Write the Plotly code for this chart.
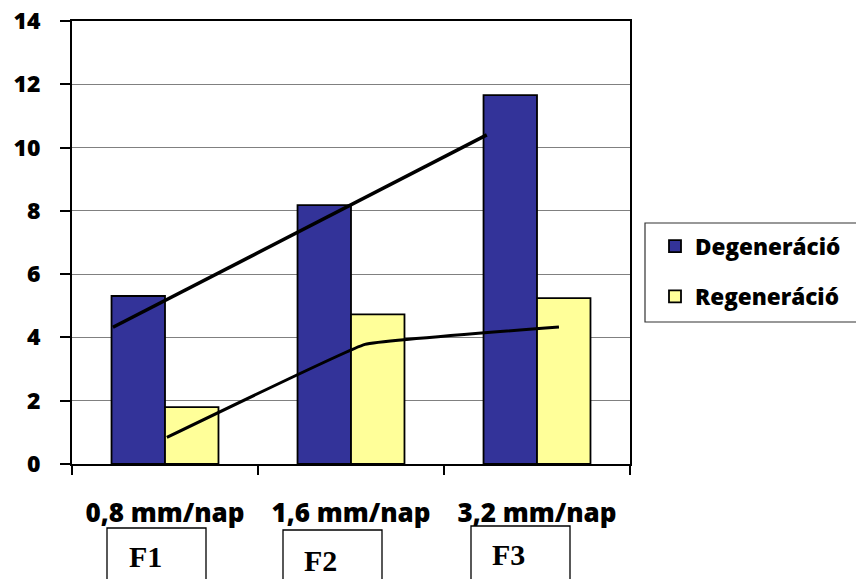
import plotly.graph_objects as go

# ---- data ----
categories = ["0,8 mm/nap", "1,6 mm/nap", "3,2 mm/nap"]
degeneracio = [5.31, 8.18, 11.66]
regeneracio = [1.80, 4.73, 5.24]

# hand-drawn trend lines (x in category-index units, y in axis units)
deg_line_x = [-0.28, 1.73]
deg_line_y = [4.32, 10.40]
reg_line_x = [0.01, 1.075, 2.118]
reg_line_y = [0.84, 3.78, 4.33]

y_ticks = [0, 2, 4, 6, 8, 10, 12, 14]
box_labels = ["F1", "F2", "F3"]

FONT = "Open Sans"

fig = go.Figure()
fig.add_trace(go.Bar(
    x=categories, y=degeneracio, name="Degeneráció",
    marker=dict(color="#333399", line=dict(color="black", width=1.8)),
    legendgroup="a",
))
fig.add_trace(go.Bar(
    x=categories, y=regeneracio, name="Regeneráció",
    marker=dict(color="#FFFF99", line=dict(color="black", width=1.8)),
    legendgroup="b",
))
fig.add_trace(go.Scatter(
    x=deg_line_x, y=deg_line_y, mode="lines", xaxis="x2",
    line=dict(color="black", width=3.5), showlegend=False, hoverinfo="skip",
))
fig.add_trace(go.Scatter(
    x=reg_line_x, y=reg_line_y, mode="lines", xaxis="x2",
    line=dict(color="black", width=3, shape="spline", smoothing=0.2),
    showlegend=False, hoverinfo="skip",
))

# reference-pixel geometry of plot area
L, R, T, B = 72, 630, 21, 464
W, H = 856, 579

def px(xp):
    return (xp - L) / (R - L)

def py(yp):
    return (B - yp) / (B - T)

fig.update_layout(
    width=W, height=H,
    margin=dict(l=L, r=W - R, t=T, b=H - B, autoexpand=False),
    paper_bgcolor="white", plot_bgcolor="white",
    barmode="group", bargap=0.425, bargroupgap=0,
    font=dict(family=FONT, color="black"),
    xaxis=dict(
        type="category", tickson="boundaries", ticks="outside", ticklen=9,
        tickcolor="black", tickwidth=1.5, automargin=False,
        showline=True, linecolor="black", linewidth=2, mirror=True,
        showgrid=False, range=[-0.5, 2.5],
        tickfont=dict(family=FONT, size=26, weight=800, color="black"),
        ticklabelstandoff=25, ticklabeloverflow="allow",
    ),
    xaxis2=dict(overlaying="x", range=[-0.5, 2.5], visible=False),
    yaxis=dict(
        range=[0, 14], tickvals=y_ticks, ticks="outside", ticklen=10,
        tickcolor="black", tickwidth=1.5, automargin=False,
        showline=True, linecolor="black", linewidth=2, mirror=True,
        showgrid=True, gridcolor="#808080", gridwidth=1.2,
        zeroline=False,
        tickfont=dict(family=FONT, size=23, weight=800, color="black"),
        ticklabelstandoff=15, ticklabeloverflow="allow",
    ),
    legend=dict(
        x=px(655), y=py(225), xanchor="left", yanchor="top",
        xref="paper", yref="paper",
        font=dict(family=FONT, size=22.5, weight=800, color="black"),
        bgcolor="rgba(0,0,0,0)", borderwidth=0,
        traceorder="grouped", tracegroupgap=18,
    ),
    showlegend=True,
)

# legend frame
fig.add_shape(type="rect", xref="paper", yref="paper",
              x0=px(645), x1=px(870), y0=py(322), y1=py(223),
              line=dict(color="#333333", width=1.2), fillcolor="rgba(0,0,0,0)")

# F boxes below the axis
box_left = [107, 283, 471]
box_top = [528, 530, 526]
text_cx = [145, 320, 508]
text_cy = [556, 560, 554]
for lbl, bl, bt, tx, ty in zip(box_labels, box_left, box_top, text_cx, text_cy):
    fig.add_shape(type="rect", xref="paper", yref="paper",
                  x0=px(bl), x1=px(bl + 99), y0=py(bt), y1=py(600),
                  line=dict(color="black", width=1.3), fillcolor="white")
    fig.add_annotation(xref="paper", yref="paper", x=px(tx), y=py(ty),
                       text=lbl, showarrow=False, xanchor="center", yanchor="middle",
                       font=dict(family="Liberation Serif", size=30, weight="bold", color="black"))

fig.write_html("out.html",
               config={"displayModeBar": False},
               post_script="document.body.style.margin='0';document.body.style.overflow='hidden';")
